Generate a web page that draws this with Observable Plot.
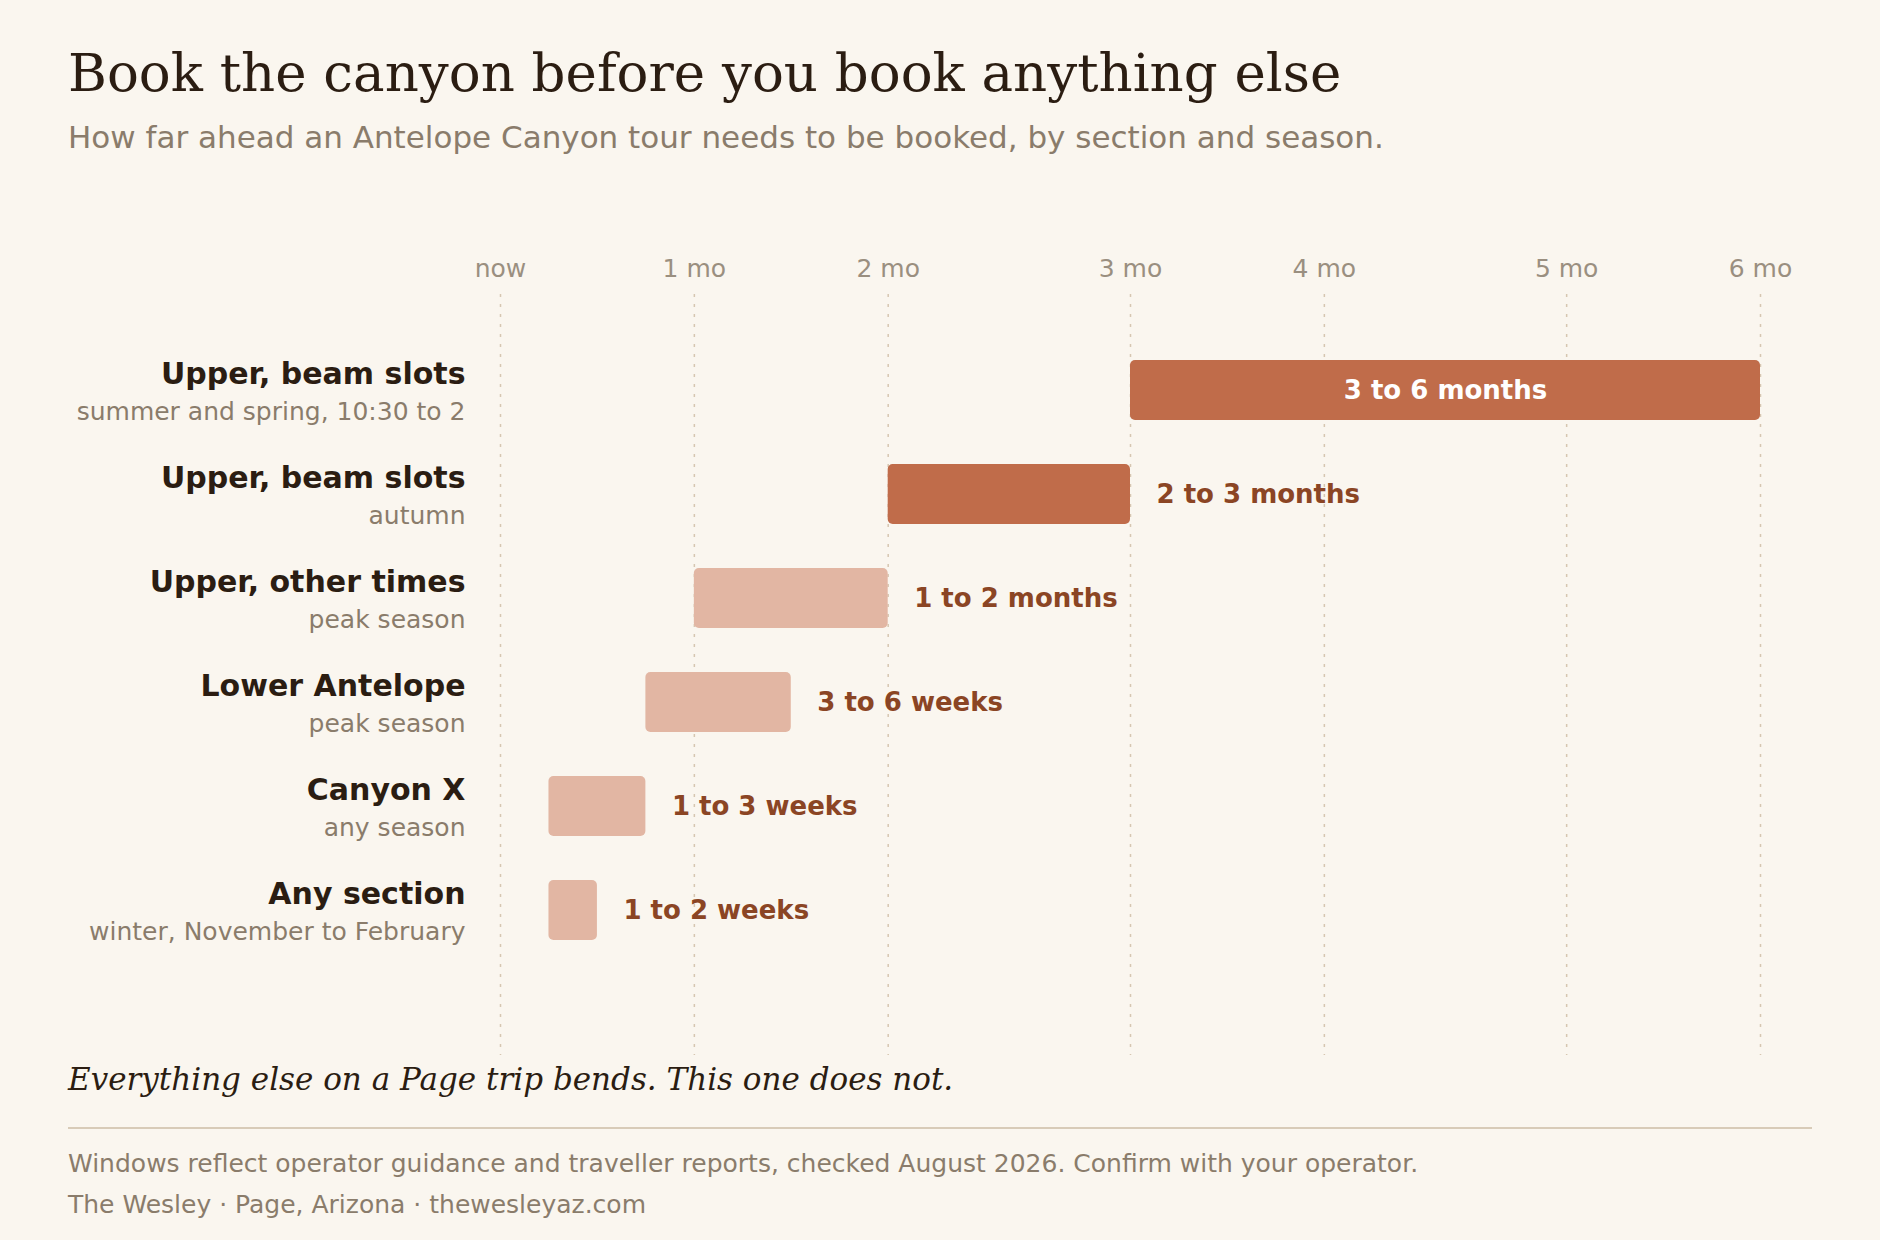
<!DOCTYPE html>
<html>
<head>
<meta charset="utf-8">
<script src="https://cdn.jsdelivr.net/npm/d3@7"></script>
<script src="https://cdn.jsdelivr.net/npm/@observablehq/plot@0.6"></script>
<style>
  html, body { margin: 0; padding: 0; background: #faf6ef; }
  #page { position: relative; width: 1880px; height: 1240px; background: #faf6ef; overflow: hidden; }
  #title { position: absolute; left: 68px; top: 42px; font-family: "DejaVu Serif", serif; font-size: 53px; color: #2b1d12; white-space: nowrap; }
  #subtitle { position: absolute; left: 68px; top: 119px; font-family: "DejaVu Sans", sans-serif; font-size: 31px; color: #8a7c6b; white-space: nowrap; }
  #chart { position: absolute; left: 0; top: 225px; }
  #kicker { position: absolute; left: 68px; top: 1061px; font-family: "DejaVu Serif", serif; font-style: italic; font-size: 31px; color: #2b1d12; white-space: nowrap; }
  #rule { position: absolute; left: 68px; top: 1127px; width: 1744px; height: 2px; background: #d8cbb8; }
  #note1 { position: absolute; left: 68px; top: 1149px; font-family: "DejaVu Sans", sans-serif; font-size: 25px; color: #8a7c6b; white-space: nowrap; }
  #note2 { position: absolute; left: 68px; top: 1190px; font-family: "DejaVu Sans", sans-serif; font-size: 25px; color: #8a7c6b; white-space: nowrap; }
</style>
</head>
<body>
<div id="page">
  <div id="title">Book the canyon before you book anything else</div>
  <div id="subtitle">How far ahead an Antelope Canyon tour needs to be booked, by section and season.</div>
  <div id="chart"></div>
  <div id="kicker">Everything else on a Page trip bends. This one does not.</div>
  <div id="rule"></div>
  <div id="note1">Windows reflect operator guidance and traveller reports, checked August 2026. Confirm with your operator.</div>
  <div id="note2">The Wesley · Page, Arizona · thewesleyaz.com</div>
</div>
<script>
// Data (lead time in weeks)
const sections = ["Upper, beam slots", "Upper, beam slots", "Upper, other times", "Lower Antelope", "Canyon X", "Any section"];
const seasons = ["summer and spring, 10:30 to 2", "autumn", "peak season", "peak season", "any season", "winter, November to February"];
const startWeeks = [13, 8, 4, 3, 1, 1];
const endWeeks = [26, 13, 8, 6, 3, 2];
const windowLabels = ["3 to 6 months", "2 to 3 months", "1 to 2 months", "3 to 6 weeks", "1 to 3 weeks", "1 to 2 weeks"];
const demand = ["high", "high", "moderate", "moderate", "moderate", "moderate"];
const labelInside = [true, false, false, false, false, false];

const tickWeeks = [0, 4, 8, 13, 17, 22, 26];
const tickLabels = ["now", "1 mo", "2 mo", "3 mo", "4 mo", "5 mo", "6 mo"];

const rows = sections.map((s, i) => ({
  key: String(i),
  section: s,
  season: seasons[i],
  start: startWeeks[i],
  end: endWeeks[i],
  label: windowLabels[i],
  demand: demand[i],
  inside: labelInside[i]
}));

const tickText = new Map(tickWeeks.map((w, i) => [w, tickLabels[i]]));

const chart = Plot.plot({
  width: 1880,
  height: 840,
  marginLeft: 500,
  marginRight: 120,
  marginTop: 69,
  marginBottom: 10,
  style: { background: "transparent", overflow: "visible" },
  x: { domain: [0, 26], axis: null },
  y: { domain: rows.map(d => d.key), range: [113, 737], paddingInner: 0.423, paddingOuter: 0.2115, axis: null },
  color: { domain: ["high", "moderate"], range: ["#c06c4a", "#e2b6a3"] },
  marks: [
    Plot.ruleX(tickWeeks, { x: d => d, stroke: "#d6c6b1", strokeWidth: 1.5, strokeDasharray: "3,7" }),
    Plot.axisX({
      anchor: "top",
      ticks: tickWeeks,
      tickSize: 0,
      tickPadding: 18,
      tickFormat: d => tickText.get(d),
      fontSize: 25,
      fontFamily: "DejaVu Sans",
      fill: "#9a8f80",
      label: null
    }),
    Plot.barX(rows, { x1: "start", x2: "end", y: "key", fill: "demand", rx: 5 }),
    Plot.text(rows, {
      y: "key", text: "section", frameAnchor: "left", dx: -35, dy: -16,
      textAnchor: "end", fontSize: 30, fontWeight: "bold", fontFamily: "DejaVu Sans", fill: "#2b1d12"
    }),
    Plot.text(rows, {
      y: "key", text: "season", frameAnchor: "left", dx: -35, dy: 21,
      textAnchor: "end", fontSize: 25, fontFamily: "DejaVu Sans", fill: "#8a7c6b"
    }),
    Plot.text(rows.filter(d => !d.inside), {
      x: "end", y: "key", text: "label", dx: 26, textAnchor: "start",
      fontSize: 26, fontWeight: "bold", fontFamily: "DejaVu Sans", fill: "#8b4524"
    }),
    Plot.text(rows.filter(d => d.inside), {
      x: d => (d.start + d.end) / 2, y: "key", text: "label", textAnchor: "middle",
      fontSize: 26, fontWeight: "bold", fontFamily: "DejaVu Sans", fill: "#ffffff"
    })
  ]
});
document.getElementById("chart").appendChild(chart);
</script>
</body>
</html>
